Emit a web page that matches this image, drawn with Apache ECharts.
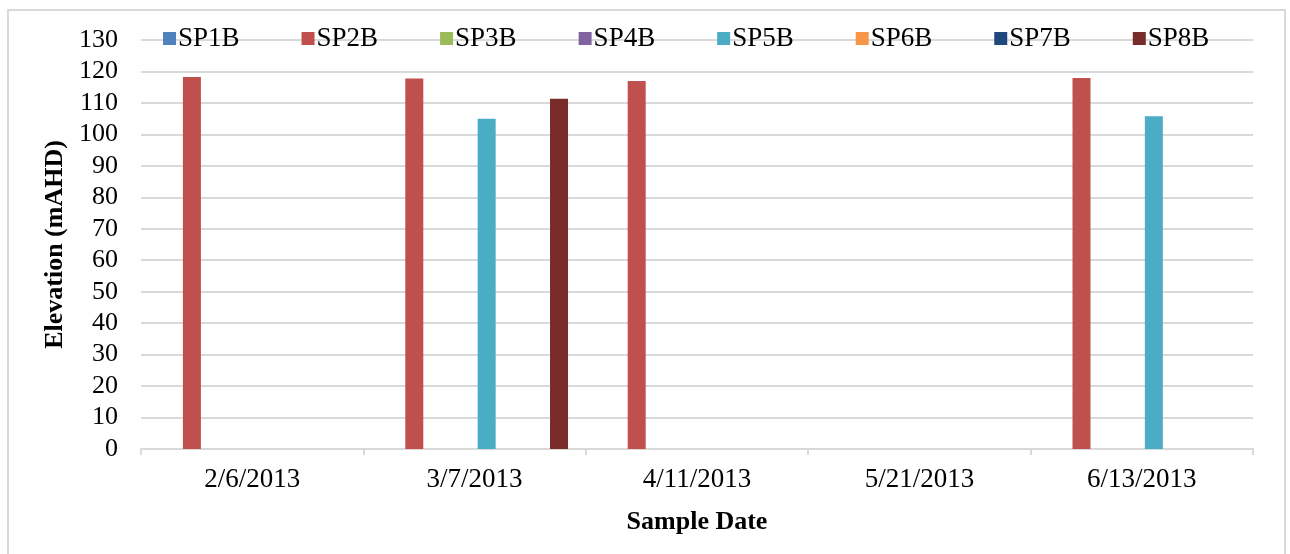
<!DOCTYPE html>
<html>
<head>
<meta charset="utf-8">
<script src="https://cdn.jsdelivr.net/npm/echarts@6/dist/echarts.min.js"></script>
<style>
  html, body { margin: 0; padding: 0; background: #fff; }
  #chart { width: 1290px; height: 554px; }
</style>
</head>
<body>
<div id="chart"></div>
<script>
// Sample dates on the x axis
const sampleDates = ['2/6/2013', '3/7/2013', '4/11/2013', '5/21/2013', '6/13/2013'];

// Groundwater elevation (mAHD) per bore; null = not sampled
const sp1b = [null, null, null, null, null];
const sp2b = [118.2, 117.8, 117.0, null, 117.9];
const sp3b = [null, null, null, null, null];
const sp4b = [null, null, null, null, null];
const sp5b = [null, 105.0, null, null, 105.8];
const sp6b = [null, null, null, null, null];
const sp7b = [null, null, null, null, null];
const sp8b = [null, 111.3, null, null, null];

const seriesNames = ['SP1B', 'SP2B', 'SP3B', 'SP4B', 'SP5B', 'SP6B', 'SP7B', 'SP8B'];
const seriesValues = [sp1b, sp2b, sp3b, sp4b, sp5b, sp6b, sp7b, sp8b];
const seriesColors = ['#4F81BD', '#C0504D', '#9BBB59', '#8064A2', '#4BACC6', '#F79646', '#1F497D', '#772C2A'];

const serif = '"Liberation Serif", "Times New Roman", serif';

const chart = echarts.init(document.getElementById('chart'), null, { renderer: 'canvas' });

chart.setOption({
  backgroundColor: '#ffffff',
  animation: false,
  color: seriesColors,
  graphic: [{
    type: 'rect',
    shape: { x: 8, y: 10, width: 1277, height: 560 },
    style: { fill: 'none', stroke: '#D9D9D9', lineWidth: 2 },
    silent: true,
    z: -10
  }],
  legend: {
    data: seriesNames,
    left: 158,
    top: 20,
    icon: 'rect',
    itemWidth: 13,
    itemHeight: 13,
    itemGap: 62,
    textStyle: { fontFamily: serif, fontSize: 27, color: '#000', padding: [0, 0, 0, -3] }
  },
  grid: { left: 141, right: 37, top: 40, bottom: 105, containLabel: false },
  xAxis: {
    type: 'category',
    data: sampleDates,
    name: 'Sample Date',
    nameLocation: 'middle',
    nameGap: 60,
    nameTextStyle: { fontFamily: serif, fontSize: 26, fontWeight: 'bold', color: '#000' },
    axisLine: { lineStyle: { color: '#D9D9D9', width: 2 } },
    axisTick: { show: true, length: 6, lineStyle: { color: '#D9D9D9', width: 2 } },
    axisLabel: { fontFamily: serif, fontSize: 27, color: '#000', margin: 17 },
    splitLine: { show: false }
  },
  yAxis: {
    type: 'value',
    min: 0,
    max: 130,
    interval: 10,
    name: 'Elevation (mAHD)',
    nameLocation: 'middle',
    nameGap: 73,
    nameTextStyle: { fontFamily: serif, fontSize: 26, fontWeight: 'bold', color: '#000' },
    axisLine: { show: false },
    axisTick: { show: false },
    axisLabel: { fontFamily: serif, fontSize: 26, color: '#000', margin: 23 },
    splitLine: { lineStyle: { color: '#D9D9D9', width: 2 } }
  },
  series: seriesNames.map((name, i) => ({
    name: name,
    type: 'bar',
    data: seriesValues[i],
    barWidth: 18,
    barGap: '34%',
    itemStyle: { color: seriesColors[i] }
  }))
});
</script>
</body>
</html>
